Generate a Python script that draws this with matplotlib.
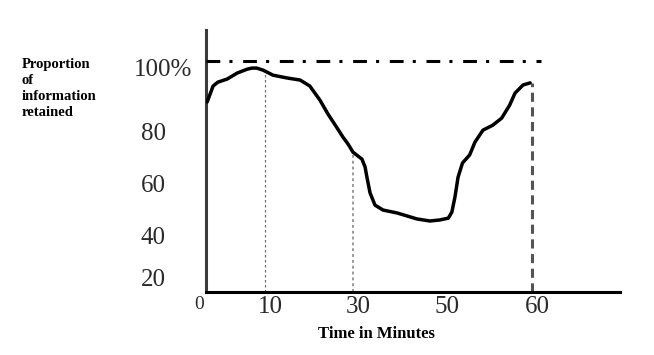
import matplotlib.pyplot as plt
import matplotlib.transforms as mtransforms
import numpy as np

# curve (minutes, % retained)
minutes = [0.2, 1.2, 2.0, 3.6, 5.3, 7.0, 7.8, 8.6, 9.7, 11.8, 15.0, 18.0, 20.2,
           22.5, 24.3, 26.4, 27.7, 28.9, 30.0, 31.1, 32.0, 32.7, 33.1, 33.8,
           34.9, 36.7, 39.8, 44.2, 47.1, 49.3, 50.6, 51.0, 51.35, 51.7, 52.2,
           53.0, 53.6, 54.5, 55.6, 56.6, 57.5, 58.1, 59.0, 59.8]
retained = [88.4, 92.9, 94.0, 94.9, 96.6, 97.7, 98.0, 98.0, 97.4, 96.0, 95.2,
            94.6, 92.9, 88.9, 85.0, 81.0, 77.9, 75.1, 72.0, 70.5, 69.3, 66.2,
            62.3, 56.2, 51.5, 49.6, 48.5, 46.2, 45.4, 45.8, 46.5, 48.8, 54.6,
            62.3, 67.8, 70.9, 75.9, 80.4, 81.8, 83.8, 87.5, 90.9, 93.2, 93.8]

x_ticks = [0, 10, 30, 50, 60]
x_ticklabels = ['0', '10', '30', '50', '60']
y_ticks = [20, 40, 60, 80, 100]
y_ticklabels = ['20', '40', '60', '80', '100%']
guide_times = [10, 30, 60]
full_level = 100
full_end = 61

# the drawing's axes are not evenly spaced: piecewise linear scales
x_knots = [0, 10, 30, 50, 60, 75]
x_pos = [0, 59, 147, 237, 326, 459.5]
y_knots = [10, 20, 40, 60, 80, 100, 115]
y_pos = [-6.75, 14.5, 57, 109, 160.5, 231, 283.9]


def x_fwd(v):
    return np.interp(v, x_knots, x_pos)


def x_inv(p):
    return np.interp(p, x_pos, x_knots)


def y_fwd(v):
    return np.interp(v, y_knots, y_pos)


def y_inv(p):
    return np.interp(p, y_pos, y_knots)


serif = 'Liberation Serif'

fig = plt.figure(figsize=(6.54, 3.55), dpi=100)
ax = fig.add_axes([206 / 654, 63 / 355, 414 / 654, 262 / 355])
ax.set_xscale('function', functions=(x_fwd, x_inv))
ax.set_yscale('function', functions=(y_fwd, y_inv))
ax.set_xlim(0, 69.9)
ax.set_ylim(13.2, 108.8)

# curve
ax.plot(minutes, retained, color='black', lw=2.5, solid_joinstyle='round',
        solid_capstyle='round', zorder=4)

# guide lines
tops = np.interp(guide_times, minutes, retained)
ax.vlines(guide_times[0], 13.2, tops[0], color='#707070', lw=0.9, linestyle=(0, (2, 2)))
ax.vlines(guide_times[1], 13.2, tops[1], color='#9a9a9a', lw=1.4, linestyle=(0, (1.5, 1.5)))
ax.vlines(guide_times[2], 13.2, tops[2], color='#555555', lw=2.2, linestyle=(0, (3, 1.8)))
ax.hlines(full_level, 0, full_end, color='black', lw=2.2,
          linestyle=(0, (4.5, 3, 1, 3.5)), zorder=3)

# axes
for side in ['top', 'right']:
    ax.spines[side].set_visible(False)
ax.spines['left'].set_color('#3a3a3a')
ax.spines['left'].set_linewidth(2.2)
ax.spines['bottom'].set_color('black')
ax.spines['bottom'].set_linewidth(2.2)

ax.set_xticks(x_ticks)
ax.set_xticklabels(x_ticklabels, family=serif, fontsize=18, color='#2a2a2a')
ax.set_yticks(y_ticks)
ax.set_yticklabels(y_ticklabels, family=serif, fontsize=18, color='#2a2a2a')
ax.minorticks_off()
ax.tick_params(axis='x', length=0, pad=3)
ax.tick_params(axis='y', length=0, pad=29)

# nudge labels to where the drawing has them
x_shift = [-7, 5, 5, 4, 5]
for lab, dx in zip(ax.get_xticklabels(), x_shift):
    lab.set_transform(lab.get_transform() +
                      mtransforms.ScaledTranslation(dx / 100, 0, fig.dpi_scale_trans))
ax.get_xticklabels()[0].set_fontsize(14)
lab100 = ax.get_yticklabels()[-1]
lab100.set_transform(lab100.get_transform() +
                     mtransforms.ScaledTranslation(27 / 100, -6.5 / 100, fig.dpi_scale_trans))

fig.text(22 / 654, 1 - 58 / 355, 'Proportion\nof\ninformation\nretained',
         ha='left', va='top', fontsize=10.5, fontweight='bold', family=serif,
         linespacing=1.3)
fig.text(376 / 654, 1 - 334 / 355, 'Time in Minutes', ha='center', va='center',
         fontsize=12, fontweight='bold', family=serif)

fig.savefig('out.png', dpi=100)
